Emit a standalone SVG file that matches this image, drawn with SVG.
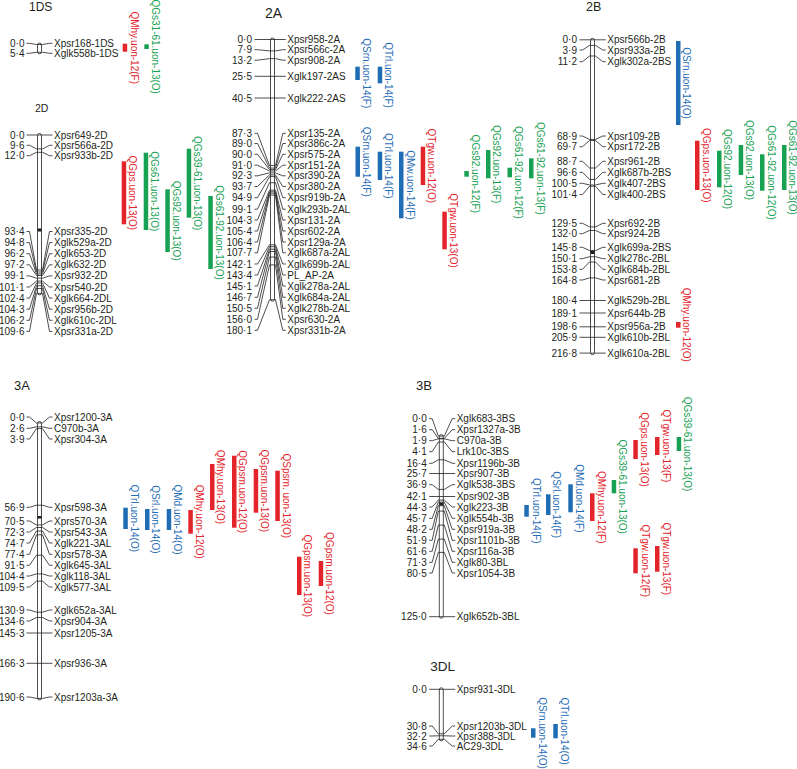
<svg xmlns="http://www.w3.org/2000/svg" width="797" height="769" viewBox="0 0 797 769">
<style>
text{font-family:"Liberation Sans",Arial,Helvetica,sans-serif;font-size:10px;fill:#231f20}
.n{text-anchor:end}
.ttl{font-size:13px}
.c polyline,.c line{fill:none;stroke:#231f20;stroke-width:0.8}
.rod{fill:#fff;stroke:#231f20;stroke-width:0.8}
.cen{fill:#231f20}
.q{text-anchor:middle}
rect.r{fill:#e3242b} rect.b{fill:#1f6db4} rect.g{fill:#17a153}
text.r{fill:#e3242b} text.b{fill:#1f6db4} text.g{fill:#17a153}
</style>
<rect width="797" height="769" fill="#fff"/>

<g id="chr-1DS">
<text class="ttl" x="29" y="10.7" style="font-size:12px">1DS</text>
<rect class="rod" x="37.5" y="43" width="4" height="10.8" rx="2"/>
<text class="n" x="24.5" y="46.8">0·0</text><text x="54" y="46.8">Xpsr168-1DS</text>
<text class="n" x="24.5" y="56.8">5·4</text><text x="54" y="56.8">Xglk558b-1DS</text>
</g>

<g id="chr-2D">
<text x="35" y="111.7" style="font-size:10.5px">2D</text>
<rect class="rod" x="37.5" y="133.5" width="4" height="161.4" rx="2"/>
<rect class="cen" x="37.5" y="228.5" width="4" height="3"/>
<text class="n" x="24.5" y="138.5">0·0</text><text x="54" y="138.5">Xpsr649-2D</text>
<text class="n" x="24.5" y="148.8">9·6</text><text x="54" y="148.8">Xpsr566a-2D</text>
<text class="n" x="24.5" y="159.2">12·0</text><text x="54" y="159.2">Xpsr933b-2D</text>
<text class="n" x="24.5" y="235">93·4</text><text x="54" y="235">Xpsr335-2D</text>
<text class="n" x="24.5" y="246.1">94·8</text><text x="54" y="246.1">Xglk529a-2D</text>
<text class="n" x="24.5" y="257.2">96·2</text><text x="54" y="257.2">Xglk653-2D</text>
<text class="n" x="24.5" y="268.3">97·2</text><text x="54" y="268.3">Xglk632-2D</text>
<text class="n" x="24.5" y="279.4">99·1</text><text x="54" y="279.4">Xpsr932-2D</text>
<text class="n" x="24.5" y="290.5">101·1</text><text x="54" y="290.5">Xpsr540-2D</text>
<text class="n" x="24.5" y="301.6">102·4</text><text x="54" y="301.6">Xglk664-2DL</text>
<text class="n" x="24.5" y="312.7">104·3</text><text x="54" y="312.7">Xpsr956b-2D</text>
<text class="n" x="24.5" y="323.8">106·2</text><text x="54" y="323.8">Xglk610c-2DL</text>
<text class="n" x="24.5" y="334.9">109·6</text><text x="54" y="334.9">Xpsr331a-2D</text>
</g>

<g id="chr-2A">
<text class="ttl" x="265" y="18.3" style="font-size:14px">2A</text>
<rect class="rod" x="270.5" y="38" width="4" height="263.2" rx="2"/>
<text class="n" x="252" y="43">0·0</text><text x="287.3" y="43">Xpsr958-2A</text>
<text class="n" x="252" y="53.2">7·9</text><text x="287.3" y="53.2">Xpsr566c-2A</text>
<text class="n" x="252" y="63.7">13·2</text><text x="287.3" y="63.7">Xpsr908-2A</text>
<text class="n" x="252" y="79.8">25·5</text><text x="287.3" y="79.8">Xglk197-2AS</text>
<text class="n" x="252" y="101.5">40·5</text><text x="287.3" y="101.5">Xglk222-2AS</text>
<text class="n" x="252" y="136.8">87·3</text><text x="287.3" y="136.8">Xpsr135-2A</text>
<text class="n" x="252" y="147">89·0</text><text x="287.3" y="147">Xpsr386c-2A</text>
<text class="n" x="252" y="157.8">90·0</text><text x="287.3" y="157.8">Xpsr575-2A</text>
<text class="n" x="252" y="168.7">91·0</text><text x="287.3" y="168.7">Xpsr151-2A</text>
<text class="n" x="252" y="179.3">92·3</text><text x="287.3" y="179.3">Xpsr390-2A</text>
<text class="n" x="252" y="190">93·7</text><text x="287.3" y="190">Xpsr380-2A</text>
<text class="n" x="252" y="201.2">94·9</text><text x="287.3" y="201.2">Xpsr919b-2A</text>
<text class="n" x="252" y="212.7">99·1</text><text x="287.3" y="212.7">Xglk293b-2AL</text>
<text class="n" x="252" y="223.5">104·3</text><text x="287.3" y="223.5">Xpsr131-2A</text>
<text class="n" x="252" y="234.5">105·4</text><text x="287.3" y="234.5">Xpsr602-2A</text>
<text class="n" x="252" y="245.5">106·4</text><text x="287.3" y="245.5">Xpsr129a-2A</text>
<text class="n" x="252" y="256.3">107·7</text><text x="287.3" y="256.3">Xglk687a-2AL</text>
<text class="n" x="252" y="267.5">142·1</text><text x="287.3" y="267.5">Xglk699b-2AL</text>
<text class="n" x="252" y="278.5">143·4</text><text x="287.3" y="278.5">PL_AP-2A</text>
<text class="n" x="252" y="289.5">145·1</text><text x="287.3" y="289.5">Xglk278a-2AL</text>
<text class="n" x="252" y="300.8">146·7</text><text x="287.3" y="300.8">Xglk684a-2AL</text>
<text class="n" x="252" y="311.8">150·5</text><text x="287.3" y="311.8">Xglk278b-2AL</text>
<text class="n" x="252" y="322.8">156·0</text><text x="287.3" y="322.8">Xpsr630-2A</text>
<text class="n" x="252" y="333.8">180·1</text><text x="287.3" y="333.8">Xpsr331b-2A</text>
</g>

<g id="chr-2B">
<text class="ttl" x="586" y="11" style="font-size:12.5px">2B</text>
<rect class="rod" x="590.5" y="38.3" width="4" height="316.3" rx="2"/>
<rect class="cen" x="590.5" y="251" width="4" height="3"/>
<text class="n" x="577" y="43.3">0·0</text><text x="607.3" y="43.3">Xpsr566b-2B</text>
<text class="n" x="577" y="53.5">3·9</text><text x="607.3" y="53.5">Xpsr933a-2B</text>
<text class="n" x="577" y="65.2">11·2</text><text x="607.3" y="65.2">Xglk302a-2BS</text>
<text class="n" x="577" y="139.5">68·9</text><text x="607.3" y="139.5">Xpsr109-2B</text>
<text class="n" x="577" y="150.2">69·7</text><text x="607.3" y="150.2">Xpsr172-2B</text>
<text class="n" x="577" y="164.8">88·7</text><text x="607.3" y="164.8">Xpsr961-2B</text>
<text class="n" x="577" y="175.8">96·6</text><text x="607.3" y="175.8">Xglk687b-2BS</text>
<text class="n" x="577" y="186.8">100·5</text><text x="607.3" y="186.8">Xglk407-2BS</text>
<text class="n" x="577" y="198">101·4</text><text x="607.3" y="198">Xglk400-2BS</text>
<text class="n" x="577" y="226.8">129·5</text><text x="607.3" y="226.8">Xpsr692-2B</text>
<text class="n" x="577" y="237.2">132·0</text><text x="607.3" y="237.2">Xpsr924-2B</text>
<text class="n" x="577" y="250.8">145·8</text><text x="607.3" y="250.8">Xglk699a-2BS</text>
<text class="n" x="577" y="262.2">150·1</text><text x="607.3" y="262.2">Xglk278c-2BL</text>
<text class="n" x="577" y="272.8">153·8</text><text x="607.3" y="272.8">Xglk684b-2BL</text>
<text class="n" x="577" y="283.5">164·8</text><text x="607.3" y="283.5">Xpsr681-2B</text>
<text class="n" x="577" y="304">180·4</text><text x="607.3" y="304">Xglk529b-2BL</text>
<text class="n" x="577" y="316.5">189·1</text><text x="607.3" y="316.5">Xpsr644b-2B</text>
<text class="n" x="577" y="330.3">198·6</text><text x="607.3" y="330.3">Xpsr956a-2B</text>
<text class="n" x="577" y="340.8">205·9</text><text x="607.3" y="340.8">Xglk610b-2BL</text>
<text class="n" x="577" y="356.6">216·8</text><text x="607.3" y="356.6">Xglk610a-2BL</text>
</g>

<g id="chr-3A">
<text class="ttl" x="14" y="390">3A</text>
<rect class="rod" x="37.5" y="421.5" width="4" height="278.4" rx="2"/>
<rect class="cen" x="37.5" y="516" width="4" height="2.6"/>
<text class="n" x="24.5" y="420.5">0·0</text><text x="54" y="420.5">Xpsr1200-3A</text>
<text class="n" x="24.5" y="431.8">2·6</text><text x="54" y="431.8">C970b-3A</text>
<text class="n" x="24.5" y="442.5">3·9</text><text x="54" y="442.5">Xpsr304-3A</text>
<text class="n" x="24.5" y="510.8">56·9</text><text x="54" y="510.8">Xpsr598-3A</text>
<text class="n" x="24.5" y="524.5">70·5</text><text x="54" y="524.5">Xprs570-3A</text>
<text class="n" x="24.5" y="535.5">72·3</text><text x="54" y="535.5">Xpsr543-3A</text>
<text class="n" x="24.5" y="546.5">74·7</text><text x="54" y="546.5">Xglk221-3AL</text>
<text class="n" x="24.5" y="557.8">77·4</text><text x="54" y="557.8">Xpsr578-3A</text>
<text class="n" x="24.5" y="568.8">91·5</text><text x="54" y="568.8">Xglk645-3AL</text>
<text class="n" x="24.5" y="579.5">104·4</text><text x="54" y="579.5">Xglk118-3AL</text>
<text class="n" x="24.5" y="590.5">109·5</text><text x="54" y="590.5">Xglk577-3AL</text>
<text class="n" x="24.5" y="613.5">130·9</text><text x="54" y="613.5">Xglk652a-3AL</text>
<text class="n" x="24.5" y="624.5">134·6</text><text x="54" y="624.5">Xpsr904-3A</text>
<text class="n" x="24.5" y="636.5">145·3</text><text x="54" y="636.5">Xpsr1205-3A</text>
<text class="n" x="24.5" y="666.8">166·3</text><text x="54" y="666.8">Xpsr936-3A</text>
<text class="n" x="24.5" y="700.5">190·6</text><text x="54" y="700.5">Xpsr1203a-3A</text>
</g>

<g id="chr-3B">
<text class="ttl" x="416" y="390">3B</text>
<rect class="rod" x="439.3" y="434.6" width="4" height="183.6" rx="2"/>
<rect class="cen" x="439.3" y="502.5" width="4" height="3"/>
<text class="n" x="426.7" y="422.2">0·0</text><text x="456.7" y="422.2">Xglk683-3BS</text>
<text class="n" x="426.7" y="433.2">1·6</text><text x="456.7" y="433.2">Xpsr1327a-3B</text>
<text class="n" x="426.7" y="444.2">1·9</text><text x="456.7" y="444.2">C970a-3B</text>
<text class="n" x="426.7" y="455.2">4·1</text><text x="456.7" y="455.2">Lrk10c-3BS</text>
<text class="n" x="426.7" y="466.8">16·4</text><text x="456.7" y="466.8">Xpsr1196b-3B</text>
<text class="n" x="426.7" y="477">25·7</text><text x="456.7" y="477">Xpsr907-3B</text>
<text class="n" x="426.7" y="488.2">36·9</text><text x="456.7" y="488.2">Xglk538-3BS</text>
<text class="n" x="426.7" y="500">42·1</text><text x="456.7" y="500">Xpsr902-3B</text>
<text class="n" x="426.7" y="510.5">44·3</text><text x="456.7" y="510.5">Xglk223-3B</text>
<text class="n" x="426.7" y="521.8">45·7</text><text x="456.7" y="521.8">Xglk554b-3B</text>
<text class="n" x="426.7" y="532.8">48·2</text><text x="456.7" y="532.8">Xpsr919a-3B</text>
<text class="n" x="426.7" y="543.8">51·9</text><text x="456.7" y="543.8">Xpsr1101b-3B</text>
<text class="n" x="426.7" y="554.8">61·6</text><text x="456.7" y="554.8">Xpsr116a-3B</text>
<text class="n" x="426.7" y="565.8">71·3</text><text x="456.7" y="565.8">Xglk80-3BL</text>
<text class="n" x="426.7" y="576.5">80·5</text><text x="456.7" y="576.5">Xpsr1054-3B</text>
<text class="n" x="426.7" y="620.2">125·0</text><text x="456.7" y="620.2">Xglk652b-3BL</text>
</g>

<g id="chr-3DL">
<text class="ttl" x="430.3" y="670.7" style="font-size:13.5px">3DL</text>
<rect class="rod" x="439.3" y="687.8" width="4" height="53" rx="2"/>
<text class="n" x="426.7" y="692.8">0·0</text><text x="456.7" y="692.8">Xpsr931-3DL</text>
<text class="n" x="426.7" y="729.5">30·8</text><text x="456.7" y="729.5">Xpsr1203b-3DL</text>
<text class="n" x="426.7" y="739.5">32·2</text><text x="456.7" y="739.5">Xpsr388-3DL</text>
<text class="n" x="426.7" y="749.5">34·6</text><text x="456.7" y="749.5">AC29-3DL</text>
</g>

<g id="connectors" class="c">
<polyline points="26.5,43.3 29.5,43.3 36.5,44.5 42.5,44.5 49.5,43.3 52.5,43.3"/>
<polyline points="26.5,53.3 29.5,53.3 36.5,52.3 42.5,52.3 49.5,53.3 52.5,53.3"/>

<line x1="26.5" y1="135" x2="52.5" y2="135"/>
<polyline points="26.5,145.3 29.5,145.3 36.5,148.9 42.5,148.9 49.5,145.3 52.5,145.3"/>
<polyline points="26.5,155.7 29.5,155.7 36.5,152.3 42.5,152.3 49.5,155.7 52.5,155.7"/>
<polyline points="26.5,231.5 29.5,231.5 36.5,270 42.5,270 49.5,231.5 52.5,231.5"/>
<polyline points="26.5,242.6 29.5,242.6 36.5,272 42.5,272 49.5,242.6 52.5,242.6"/>
<polyline points="26.5,253.7 29.5,253.7 36.5,274 42.5,274 49.5,253.7 52.5,253.7"/>
<polyline points="26.5,264.8 29.5,264.8 36.5,275.5 42.5,275.5 49.5,264.8 52.5,264.8"/>
<polyline points="26.5,275.9 29.5,275.9 36.5,278.2 42.5,278.2 49.5,275.9 52.5,275.9"/>
<polyline points="26.5,287 29.5,287 36.5,281.1 42.5,281.1 49.5,287 52.5,287"/>
<polyline points="26.5,298.1 29.5,298.1 36.5,283 42.5,283 49.5,298.1 52.5,298.1"/>
<polyline points="26.5,309.2 29.5,309.2 36.5,285.7 42.5,285.7 49.5,309.2 52.5,309.2"/>
<polyline points="26.5,320.3 29.5,320.3 36.5,288.5 42.5,288.5 49.5,320.3 52.5,320.3"/>
<polyline points="26.5,331.4 29.5,331.4 36.5,293.4 42.5,293.4 49.5,331.4 52.5,331.4"/>

<line x1="254.5" y1="39.5" x2="285.8" y2="39.5"/>
<polyline points="254.5,49.7 257.5,49.7 269.5,50.9 275.5,50.9 282.8,49.7 285.8,49.7"/>
<polyline points="254.5,60.2 257.5,60.2 269.5,58.6 275.5,58.6 282.8,60.2 285.8,60.2"/>
<line x1="254.5" y1="76.3" x2="285.8" y2="76.3"/>
<line x1="254.5" y1="98" x2="285.8" y2="98"/>
<polyline points="254.5,133.3 257.5,133.3 269.5,165.6 275.5,165.6 282.8,133.3 285.8,133.3"/>
<polyline points="254.5,143.5 257.5,143.5 269.5,168.1 275.5,168.1 282.8,143.5 285.8,143.5"/>
<polyline points="254.5,154.3 257.5,154.3 269.5,169.6 275.5,169.6 282.8,154.3 285.8,154.3"/>
<polyline points="254.5,165.2 257.5,165.2 269.5,171 275.5,171 282.8,165.2 285.8,165.2"/>
<polyline points="254.5,175.8 257.5,175.8 269.5,172.9 275.5,172.9 282.8,175.8 285.8,175.8"/>
<polyline points="254.5,186.5 257.5,186.5 269.5,174.9 275.5,174.9 282.8,186.5 285.8,186.5"/>
<polyline points="254.5,197.7 257.5,197.7 269.5,176.6 275.5,176.6 282.8,197.7 285.8,197.7"/>
<polyline points="254.5,209.2 257.5,209.2 269.5,182.7 275.5,182.7 282.8,209.2 285.8,209.2"/>
<polyline points="254.5,220 257.5,220 269.5,190.2 275.5,190.2 282.8,220 285.8,220"/>
<polyline points="254.5,231 257.5,231 269.5,191.8 275.5,191.8 282.8,231 285.8,231"/>
<polyline points="254.5,242 257.5,242 269.5,193.2 275.5,193.2 282.8,242 285.8,242"/>
<polyline points="254.5,252.8 257.5,252.8 269.5,195.1 275.5,195.1 282.8,252.8 285.8,252.8"/>
<polyline points="254.5,264 257.5,264 269.5,244.8 275.5,244.8 282.8,264 285.8,264"/>
<polyline points="254.5,275 257.5,275 269.5,246.7 275.5,246.7 282.8,275 285.8,275"/>
<polyline points="254.5,286 257.5,286 269.5,249.2 275.5,249.2 282.8,286 285.8,286"/>
<polyline points="254.5,297.3 257.5,297.3 269.5,251.5 275.5,251.5 282.8,297.3 285.8,297.3"/>
<polyline points="254.5,308.3 257.5,308.3 269.5,257 275.5,257 282.8,308.3 285.8,308.3"/>
<polyline points="254.5,319.3 257.5,319.3 269.5,264.9 275.5,264.9 282.8,319.3 285.8,319.3"/>
<polyline points="254.5,330.3 257.5,330.3 269.5,299.7 275.5,299.7 282.8,330.3 285.8,330.3"/>

<line x1="579.5" y1="39.8" x2="605.8" y2="39.8"/>
<polyline points="579.5,50 582.5,50 589.5,45.4 595.5,45.4 602.8,50 605.8,50"/>
<polyline points="579.5,61.7 582.5,61.7 589.5,56 595.5,56 602.8,61.7 605.8,61.7"/>
<polyline points="579.5,136 582.5,136 589.5,139.4 595.5,139.4 602.8,136 605.8,136"/>
<polyline points="579.5,146.7 582.5,146.7 589.5,140.5 595.5,140.5 602.8,146.7 605.8,146.7"/>
<polyline points="579.5,161.3 582.5,161.3 589.5,168 595.5,168 602.8,161.3 605.8,161.3"/>
<polyline points="579.5,172.3 582.5,172.3 589.5,179.4 595.5,179.4 602.8,172.3 605.8,172.3"/>
<polyline points="579.5,183.3 582.5,183.3 589.5,185 595.5,185 602.8,183.3 605.8,183.3"/>
<polyline points="579.5,194.5 582.5,194.5 589.5,186.3 595.5,186.3 602.8,194.5 605.8,194.5"/>
<polyline points="579.5,223.3 582.5,223.3 589.5,226.9 595.5,226.9 602.8,223.3 605.8,223.3"/>
<polyline points="579.5,233.7 582.5,233.7 589.5,230.5 595.5,230.5 602.8,233.7 605.8,233.7"/>
<polyline points="579.5,247.3 582.5,247.3 589.5,250.5 595.5,250.5 602.8,247.3 605.8,247.3"/>
<polyline points="579.5,258.7 582.5,258.7 589.5,256.7 595.5,256.7 602.8,258.7 605.8,258.7"/>
<polyline points="579.5,269.3 582.5,269.3 589.5,262 595.5,262 602.8,269.3 605.8,269.3"/>
<polyline points="579.5,280 582.5,280 589.5,277.9 595.5,277.9 602.8,280 605.8,280"/>
<line x1="579.5" y1="300.5" x2="605.8" y2="300.5"/>
<line x1="579.5" y1="313" x2="605.8" y2="313"/>
<line x1="579.5" y1="326.8" x2="605.8" y2="326.8"/>
<line x1="579.5" y1="337.3" x2="605.8" y2="337.3"/>
<line x1="579.5" y1="353.1" x2="605.8" y2="353.1"/>

<polyline points="26.5,417 29.5,417 36.5,423 42.5,423 49.5,417 52.5,417"/>
<polyline points="26.5,428.3 29.5,428.3 36.5,426.8 42.5,426.8 49.5,428.3 52.5,428.3"/>
<polyline points="26.5,439 29.5,439 36.5,428.6 42.5,428.6 49.5,439 52.5,439"/>
<polyline points="26.5,507.3 29.5,507.3 36.5,505.2 42.5,505.2 49.5,507.3 52.5,507.3"/>
<polyline points="26.5,521 29.5,521 36.5,524.9 42.5,524.9 49.5,521 52.5,521"/>
<polyline points="26.5,532 29.5,532 36.5,527.5 42.5,527.5 49.5,532 52.5,532"/>
<polyline points="26.5,543 29.5,543 36.5,531 42.5,531 49.5,543 52.5,543"/>
<polyline points="26.5,554.3 29.5,554.3 36.5,534.8 42.5,534.8 49.5,554.3 52.5,554.3"/>
<polyline points="26.5,565.3 29.5,565.3 36.5,555.2 42.5,555.2 49.5,565.3 52.5,565.3"/>
<polyline points="26.5,576 29.5,576 36.5,573.9 42.5,573.9 49.5,576 52.5,576"/>
<polyline points="26.5,587 29.5,587 36.5,581.2 42.5,581.2 49.5,587 52.5,587"/>
<polyline points="26.5,610 29.5,610 36.5,612.2 42.5,612.2 49.5,610 52.5,610"/>
<polyline points="26.5,621 29.5,621 36.5,617.5 42.5,617.5 49.5,621 52.5,621"/>
<line x1="26.5" y1="633" x2="52.5" y2="633"/>
<line x1="26.5" y1="663.3" x2="52.5" y2="663.3"/>
<polyline points="26.5,697 29.5,697 36.5,698.4 42.5,698.4 49.5,697 52.5,697"/>

<polyline points="429.2,418.7 432.2,418.7 438.3,436.1 444.3,436.1 452.2,418.7 455.2,418.7"/>
<polyline points="429.2,429.7 432.2,429.7 438.3,438.4 444.3,438.4 452.2,429.7 455.2,429.7"/>
<polyline points="429.2,440.7 432.2,440.7 438.3,438.8 444.3,438.8 452.2,440.7 455.2,440.7"/>
<polyline points="429.2,451.7 432.2,451.7 438.3,442 444.3,442 452.2,451.7 455.2,451.7"/>
<polyline points="429.2,463.3 432.2,463.3 438.3,459.8 444.3,459.8 452.2,463.3 455.2,463.3"/>
<line x1="429.2" y1="473.5" x2="455.2" y2="473.5"/>
<polyline points="429.2,484.7 432.2,484.7 438.3,489.4 444.3,489.4 452.2,484.7 455.2,484.7"/>
<line x1="429.2" y1="496.5" x2="455.2" y2="496.5"/>
<polyline points="429.2,507 432.2,507 438.3,500.1 444.3,500.1 452.2,507 455.2,507"/>
<polyline points="429.2,518.3 432.2,518.3 438.3,502.1 444.3,502.1 452.2,518.3 455.2,518.3"/>
<polyline points="429.2,529.3 432.2,529.3 438.3,505.7 444.3,505.7 452.2,529.3 455.2,529.3"/>
<polyline points="429.2,540.3 432.2,540.3 438.3,511.1 444.3,511.1 452.2,540.3 455.2,540.3"/>
<polyline points="429.2,551.3 432.2,551.3 438.3,525.1 444.3,525.1 452.2,551.3 455.2,551.3"/>
<polyline points="429.2,562.3 432.2,562.3 438.3,539.1 444.3,539.1 452.2,562.3 455.2,562.3"/>
<polyline points="429.2,573 432.2,573 438.3,552.4 444.3,552.4 452.2,573 455.2,573"/>
<line x1="429.2" y1="616.7" x2="455.2" y2="616.7"/>

<line x1="429.2" y1="689.3" x2="455.2" y2="689.3"/>
<polyline points="429.2,726 432.2,726 438.3,733.8 444.3,733.8 452.2,726 455.2,726"/>
<polyline points="429.2,736 432.2,736 438.3,735.8 444.3,735.8 452.2,736 455.2,736"/>
<polyline points="429.2,746 432.2,746 438.3,739.3 444.3,739.3 452.2,746 455.2,746"/>
</g>

<g id="qtl-1DS">
<rect class="r" x="122.7" y="43.7" width="4.5" height="8"/><text class="q r" transform="translate(130.5,47.7) rotate(90)">QMhy.uon-12(F)</text>
<rect class="g" x="144.3" y="44.3" width="4.5" height="4.7"/><text class="q g" transform="translate(152,46.7) rotate(90)">QGs31-61.uon-13(O)</text>
</g>
<g id="qtl-2D">
<rect class="r" x="121.7" y="161.3" width="4.5" height="63"/><text class="q r" transform="translate(129,192.8) rotate(90)">QGps.uon-13(O)</text>
<rect class="g" x="143.7" y="152.7" width="4.5" height="77.3"/><text class="q g" transform="translate(150.7,191.3) rotate(90)">QGs61.uon-13(O)</text>
<rect class="g" x="165.3" y="189.3" width="4.5" height="62.7"/><text class="q g" transform="translate(172.5,220.7) rotate(90)">QGs92.uon-13(O)</text>
<rect class="g" x="186.7" y="148.7" width="4.5" height="69"/><text class="q g" transform="translate(194,183.2) rotate(90)">QGs39-61.uon-13(O)</text>
<rect class="g" x="208.3" y="196" width="4.5" height="73"/><text class="q g" transform="translate(216,232.5) rotate(90)">QGs61-92.uon-13(O)</text>
</g>
<g id="qtl-2A">
<rect class="b" x="355.3" y="66.7" width="4.5" height="13.3"/><text class="q b" transform="translate(362.5,73.3) rotate(90)">QSrn.uon-14(F)</text>
<rect class="b" x="377.7" y="66.7" width="4.5" height="16.6"/><text class="q b" transform="translate(384.5,75) rotate(90)">QTrl.uon-14(F)</text>
<rect class="b" x="355.5" y="146.7" width="4.5" height="30"/><text class="q b" transform="translate(362.5,161.7) rotate(90)">QSrn.uon-14(F)</text>
<rect class="b" x="377.7" y="151.7" width="4.5" height="28.3"/><text class="q b" transform="translate(384.5,165.8) rotate(90)">QTrl.uon-14(F)</text>
<rect class="b" x="399" y="151.7" width="4.5" height="66.6"/><text class="q b" transform="translate(406.5,185) rotate(90)">QMw.uon-14(F)</text>
<rect class="r" x="420.7" y="146.7" width="4.5" height="38.3"/><text class="q r" transform="translate(428.3,165.8) rotate(90)">QTgw.uon-12(O)</text>
<rect class="r" x="442.3" y="211.7" width="4.5" height="37.6"/><text class="q r" transform="translate(450,230.5) rotate(90)">QTgw.uon-13(O)</text>
<rect class="g" x="464.3" y="171" width="4.5" height="5.7"/><text class="q g" transform="translate(471.5,173.8) rotate(90)">QGs92.uon-12(F)</text>
<rect class="g" x="486" y="150" width="4.5" height="28.3"/><text class="q g" transform="translate(493.3,164.2) rotate(90)">QGs92.uon-13(F)</text>
<rect class="g" x="507.5" y="167.7" width="4.5" height="9.6"/><text class="q g" transform="translate(515,172.5) rotate(90)">QGs61-92.uon-12(F)</text>
<rect class="g" x="529" y="158.3" width="4.5" height="20"/><text class="q g" transform="translate(536.5,168.3) rotate(90)">QGs61-92.uon-13(F)</text>
</g>
<g id="qtl-2B">
<rect class="b" x="676" y="41" width="4.5" height="84"/><text class="q b" transform="translate(683.3,83) rotate(90)">QSrn.uon-14(O)</text>
<rect class="r" x="695" y="140.7" width="4.5" height="49.3"/><text class="q r" transform="translate(702.7,165.3) rotate(90)">QGps.uon-13(O)</text>
<rect class="g" x="717" y="150.7" width="4.5" height="36.6"/><text class="q g" transform="translate(724.3,169) rotate(90)">QGs92.uon-12(O)</text>
<rect class="g" x="738.7" y="145" width="4.5" height="30"/><text class="q g" transform="translate(746,160) rotate(90)">QGs92.uon-13(O)</text>
<rect class="g" x="760" y="154.3" width="4.5" height="36.4"/><text class="q g" transform="translate(767.7,172.5) rotate(90)">QGs61-92.uon-12(O)</text>
<rect class="g" x="782" y="145" width="4.5" height="45"/><text class="q g" transform="translate(789.3,167.5) rotate(90)">QGs61-92.uon-13(O)</text>
<rect class="r" x="676" y="322" width="4.5" height="5.7"/><text class="q r" transform="translate(683.3,324.8) rotate(90)">QMhy.uon-12(O)</text>
</g>
<g id="qtl-3A">
<rect class="b" x="123.3" y="507.7" width="4.5" height="21.3"/><text class="q b" transform="translate(130.7,518.3) rotate(90)">QTrl.uon-14(O)</text>
<rect class="b" x="145" y="509" width="4.5" height="21"/><text class="q b" transform="translate(152,519.5) rotate(90)">QSrl.uon-14(O)</text>
<rect class="b" x="166.7" y="509" width="4.5" height="21"/><text class="q b" transform="translate(173.5,519.5) rotate(90)">QMd.uon-14(O)</text>
<rect class="r" x="188.3" y="510" width="4.5" height="23.7"/><text class="q r" transform="translate(195.7,521.8) rotate(90)">QMhy.uon-12(O)</text>
<rect class="r" x="210" y="464" width="4.5" height="46"/><text class="q r" transform="translate(217.3,487) rotate(90)">QMhy.uon-13(O)</text>
<rect class="r" x="232" y="455.7" width="4.5" height="72"/><text class="q r" transform="translate(239.3,491.7) rotate(90)">QGpsm.uon-12(O)</text>
<rect class="r" x="253.7" y="469" width="4.5" height="43.7"/><text class="q r" transform="translate(261,490.8) rotate(90)">QGpsm.uon-13(O)</text>
<rect class="r" x="275.3" y="470.7" width="4.5" height="50.3"/><text class="q r" transform="translate(282.7,495.8) rotate(90)">QSpsm. uon-13(O)</text>
<rect class="r" x="297" y="556.7" width="4.5" height="38.3"/><text class="q r" transform="translate(304,575.8) rotate(90)">QGpsm.uon-13(O)</text>
<rect class="r" x="318.7" y="561" width="4.5" height="25"/><text class="q r" transform="translate(326,573.5) rotate(90)">QGpsm.uon-12(O)</text>
</g>
<g id="qtl-3B">
<rect class="b" x="524.3" y="505" width="4.5" height="11.7"/><text class="q b" transform="translate(532.5,510.8) rotate(90)">QTrl.uon-14(F)</text>
<rect class="b" x="546" y="494.3" width="4.5" height="20.7"/><text class="q b" transform="translate(553.3,504.7) rotate(90)">QSrl.uon-14(F)</text>
<rect class="b" x="568.3" y="484.3" width="4.5" height="28"/><text class="q b" transform="translate(575.7,498.3) rotate(90)">QMd.uon-14(F)</text>
<rect class="r" x="590" y="493.3" width="4.5" height="27.7"/><text class="q r" transform="translate(597.7,507.2) rotate(90)">QMhy.uon-12(F)</text>
<rect class="g" x="611.7" y="480" width="4.5" height="13.3"/><text class="q g" transform="translate(619.3,486.7) rotate(90)">QGs39-61.uon-13(O)</text>
<rect class="r" x="633.3" y="440" width="4.5" height="19"/><text class="q r" transform="translate(641,449.5) rotate(90)">QGps.uon-13(O)</text>
<rect class="r" x="655" y="437" width="4.5" height="18"/><text class="q r" transform="translate(662.7,446) rotate(90)">QTgw.uon-13(F)</text>
<rect class="g" x="676.7" y="437" width="4.5" height="14"/><text class="q g" transform="translate(684.3,444) rotate(90)">QGs39-61.uon-13(O)</text>
<rect class="r" x="633.3" y="548.3" width="4.5" height="25"/><text class="q r" transform="translate(641.7,560.8) rotate(90)">QTgw.uon-12(F)</text>
<rect class="r" x="655" y="546" width="4.5" height="25.7"/><text class="q r" transform="translate(663.3,558.8) rotate(90)">QTgw.uon-13(F)</text>
</g>
<g id="qtl-3DL">
<rect class="b" x="531" y="728.3" width="4.5" height="9.4"/><text class="q b" transform="translate(538.5,733) rotate(90)">QSrn.uon-14(O)</text>
<rect class="b" x="553.3" y="724" width="4.5" height="14.3"/><text class="q b" transform="translate(560.5,731.2) rotate(90)">QTrl.uon-14(O)</text>
</g>
</svg>
